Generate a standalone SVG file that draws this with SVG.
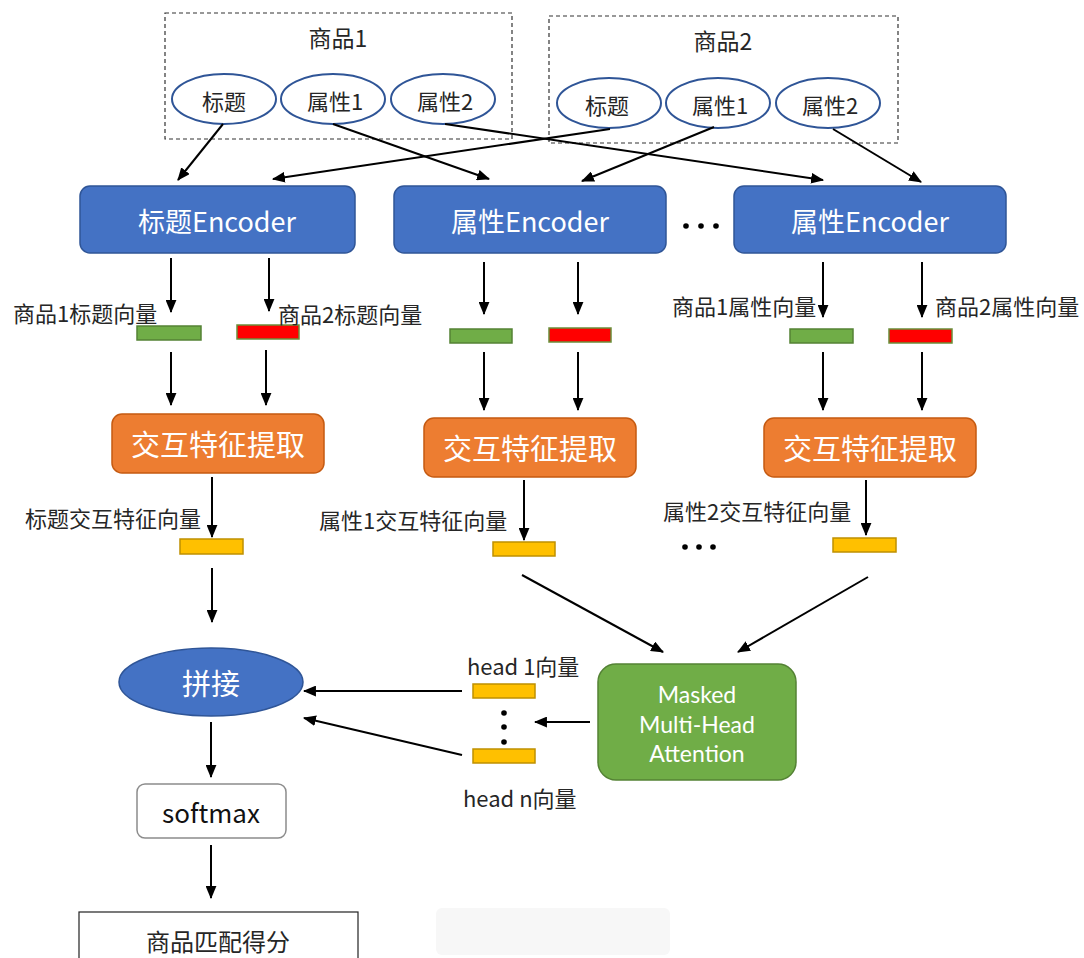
<svg xmlns="http://www.w3.org/2000/svg" width="1084" height="958" viewBox="0 0 1084 958">
<defs>
<marker id="ah" viewBox="0 0 12 10" refX="11" refY="5" markerWidth="13" markerHeight="11" markerUnits="userSpaceOnUse" orient="auto">
<path d="M0,0 L12,5 L0,10 z" fill="#000"/>
</marker>
</defs>
<style>
text{font-family:"Noto Sans CJK SC","Noto Sans",sans-serif;dominant-baseline:central;}
.lbl{font-size:22px;fill:#262626;}
.grp{fill:none;stroke:#333;stroke-width:1.2;stroke-dasharray:4 3;}
.ell{fill:#fff;stroke:#2f5597;stroke-width:2;}
.enc{fill:#4472c4;stroke:#2f5597;stroke-width:1.5;}
.enct{font-size:27px;fill:#fff;text-anchor:middle;}
.org{fill:#ed7d31;stroke:#c55a11;stroke-width:1.5;}
.orgt{font-size:29px;fill:#fff;text-anchor:middle;}
.gbar{fill:#70ad47;stroke:#548235;stroke-width:1.5;}
.rbar{fill:#ff0000;stroke:#6a8f3a;stroke-width:1.5;}
.ybar{fill:#ffc000;stroke:#bf9000;stroke-width:1.5;}
.mid{text-anchor:middle;}
.mh{font-family:Lato,"Open Sans",sans-serif;font-size:23px;fill:#fff;text-anchor:middle;}
.conn line{stroke:#000;stroke-width:2;marker-end:url(#ah);}
</style>
<rect x="0" y="0" width="1084" height="958" fill="#fff"/>

<g id="group1">
<rect class="grp" x="165" y="13" width="347" height="126"/>
<text class="mid" x="338" y="37" font-size="23" fill="#262626">商品1</text>
</g>
<g id="g1-title"><ellipse class="ell" cx="224" cy="99" rx="52" ry="25"/><text class="lbl mid" x="224" y="100">标题</text></g>
<g id="g1-attr1"><ellipse class="ell" cx="333" cy="99" rx="52" ry="25"/><text class="lbl mid" x="335" y="100">属性1</text></g>
<g id="g1-attr2"><ellipse class="ell" cx="443" cy="99" rx="52" ry="25"/><text class="lbl mid" x="445" y="100">属性2</text></g>

<g id="group2">
<rect class="grp" x="549" y="16" width="349" height="127"/>
<text class="mid" x="723" y="40" font-size="23" fill="#262626">商品2</text>
</g>
<g id="g2-title"><ellipse class="ell" cx="609" cy="103" rx="52" ry="25"/><text class="lbl mid" x="607" y="104">标题</text></g>
<g id="g2-attr1"><ellipse class="ell" cx="718" cy="103" rx="52" ry="25"/><text class="lbl mid" x="720" y="104">属性1</text></g>
<g id="g2-attr2"><ellipse class="ell" cx="828" cy="103" rx="52" ry="25"/><text class="lbl mid" x="830" y="104">属性2</text></g>

<g id="enc-title"><rect class="enc" x="80" y="186" width="275" height="67" rx="10"/><text class="enct" x="217" y="220">标题Encoder</text></g>
<g id="enc-attr1"><rect class="enc" x="394" y="186" width="272" height="67" rx="10"/><text class="enct" x="530" y="220">属性Encoder</text></g>
<g id="enc-dots"><circle cx="686" cy="226" r="2.8"/><circle cx="701" cy="226" r="2.8"/><circle cx="716" cy="226" r="2.8"/></g>
<g id="enc-attr2"><rect class="enc" x="734" y="186" width="272" height="67" rx="10"/><text class="enct" x="870" y="220">属性Encoder</text></g>

<g id="v-title1"><rect class="gbar" x="137" y="326" width="64" height="14"/><text class="lbl" x="13" y="312">商品1标题向量</text></g>
<g id="v-title2"><rect class="rbar" x="237" y="325" width="62" height="14"/><text class="lbl" x="278" y="313">商品2标题向量</text></g>
<g id="v-attr1a"><rect class="gbar" x="450" y="329" width="62" height="14"/></g>
<g id="v-attr1b"><rect class="rbar" x="549" y="328" width="62" height="14"/></g>
<g id="v-attr2a"><rect class="gbar" x="790" y="329" width="63" height="14"/><text class="lbl" x="672" y="305">商品1属性向量</text></g>
<g id="v-attr2b"><rect class="rbar" x="889" y="329" width="63" height="14"/><text class="lbl" x="935" y="305">商品2属性向量</text></g>

<g id="inter1"><rect class="org" x="112" y="414" width="212" height="59" rx="10"/><text class="orgt" x="218" y="443">交互特征提取</text></g>
<g id="inter2"><rect class="org" x="424" y="418" width="212" height="59" rx="10"/><text class="orgt" x="530" y="447">交互特征提取</text></g>
<g id="inter3"><rect class="org" x="764" y="418" width="212" height="59" rx="10"/><text class="orgt" x="870" y="447">交互特征提取</text></g>

<g id="f-title"><rect class="ybar" x="180" y="539" width="63" height="15"/><text class="lbl" x="25" y="517">标题交互特征向量</text></g>
<g id="f-attr1"><rect class="ybar" x="493" y="542" width="62" height="14"/><text class="lbl" x="319" y="519">属性1交互特征向量</text></g>
<g id="f-dots"><circle cx="685" cy="547" r="2.8"/><circle cx="699" cy="547" r="2.8"/><circle cx="713" cy="547" r="2.8"/></g>
<g id="f-attr2"><rect class="ybar" x="833" y="538" width="63" height="14"/><text class="lbl" x="663" y="510">属性2交互特征向量</text></g>

<g id="concat"><ellipse cx="211" cy="682" rx="92" ry="34" fill="#4472c4" stroke="#2f5597" stroke-width="1.5"/><text class="orgt" x="211" y="682">拼接</text></g>

<g id="head1"><rect class="ybar" x="473" y="684" width="62" height="14"/><text class="lbl" x="467" y="665" font-size="19">head 1向量</text></g>
<g id="head-dots"><circle cx="504" cy="713" r="2.8"/><circle cx="504" cy="727" r="2.8"/><circle cx="504" cy="742" r="2.8"/></g>
<g id="headn"><rect class="ybar" x="473" y="749" width="62" height="14"/><text class="lbl" x="463" y="797" font-size="19">head n向量</text></g>

<g id="mha"><rect x="598" y="664" width="198" height="116" rx="18" fill="#70ad47" stroke="#548235" stroke-width="1.5"/>
<text class="mh" x="697" y="694">Masked</text>
<text class="mh" x="697" y="724">Multi-Head</text>
<text class="mh" x="697" y="753">Attention</text></g>

<g id="softmax"><rect x="137" y="784" width="149" height="54" rx="8" fill="#fff" stroke="#8c8c8c" stroke-width="1.5"/><text x="211" y="811" font-family="'Open Sans',sans-serif" font-size="26" fill="#111" text-anchor="middle">softmax</text></g>

<g id="score"><rect x="79" y="912" width="279" height="60" fill="#fff" stroke="#222" stroke-width="1.2"/><text x="218" y="940" font-size="24" fill="#262626" text-anchor="middle">商品匹配得分</text></g>

<g id="toolbar"><rect x="436" y="908" width="234" height="47" rx="6" fill="#f7f7f7"/></g>

<g class="conn" id="connectors">
<line x1="223" y1="124" x2="178" y2="180"/>
<line x1="333" y1="124" x2="489" y2="179"/>
<line x1="445" y1="124" x2="823" y2="180"/>
<line x1="610" y1="129" x2="273" y2="179"/>
<line x1="714" y1="127" x2="582" y2="181"/>
<line x1="833" y1="129" x2="921" y2="182"/>
<line x1="171" y1="258" x2="171" y2="312"/>
<line x1="269" y1="258" x2="269" y2="311"/>
<line x1="484" y1="262" x2="484" y2="314"/>
<line x1="578" y1="262" x2="578" y2="314"/>
<line x1="823" y1="262" x2="823" y2="317"/>
<line x1="922" y1="262" x2="922" y2="317"/>
<line x1="171" y1="352" x2="171" y2="405"/>
<line x1="266" y1="350" x2="266" y2="405"/>
<line x1="484" y1="352" x2="484" y2="410"/>
<line x1="578" y1="352" x2="578" y2="410"/>
<line x1="823" y1="352" x2="823" y2="410"/>
<line x1="922" y1="352" x2="922" y2="410"/>
<line x1="212" y1="477" x2="212" y2="537"/>
<line x1="524" y1="480" x2="524" y2="540"/>
<line x1="866" y1="480" x2="866" y2="535"/>
<line x1="212" y1="568" x2="212" y2="622"/>
<line x1="522" y1="575" x2="663" y2="652"/>
<line x1="868" y1="577" x2="738" y2="652"/>
<line x1="590" y1="722" x2="535" y2="722"/>
<line x1="462" y1="691" x2="304" y2="691"/>
<line x1="462" y1="755" x2="304" y2="718"/>
<line x1="211" y1="722" x2="211" y2="777"/>
<line x1="211" y1="845" x2="211" y2="898"/>
</g>
</svg>
